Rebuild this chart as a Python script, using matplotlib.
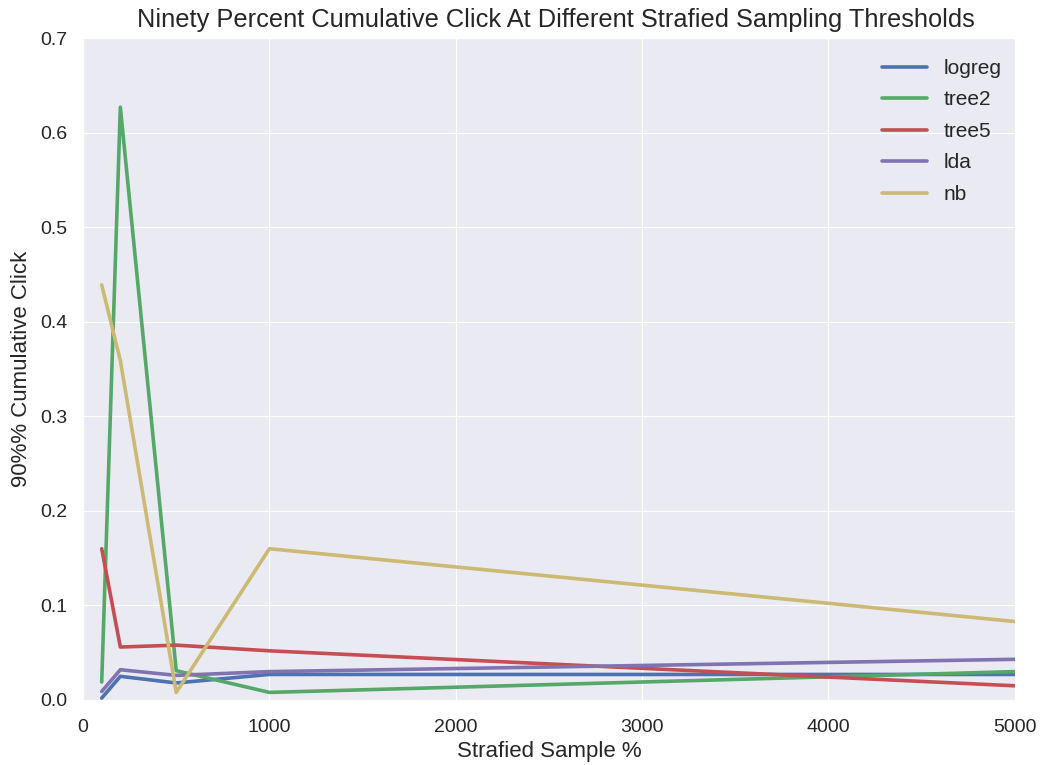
import matplotlib
matplotlib.use("Agg")
import matplotlib.pyplot as plt
import seaborn as sns

sample_pct = [100, 200, 500, 1000, 5000]
logreg = [0.002, 0.025, 0.018, 0.027, 0.027]
tree2 = [0.019, 0.627, 0.031, 0.008, 0.030]
tree5 = [0.160, 0.056, 0.058, 0.052, 0.015]
lda = [0.009, 0.032, 0.026, 0.030, 0.043]
nb = [0.439, 0.359, 0.008, 0.160, 0.083]
series_names = ["logreg", "tree2", "tree5", "lda", "nb"]
colors = ["#4C72B0", "#55A868", "#C44E52", "#8172B2", "#CCB974"]

sns.set_style("darkgrid")
plt.rcParams['font.family'] = ['Liberation Sans', 'DejaVu Sans']

fig, ax = plt.subplots(figsize=(10.45, 7.65), dpi=100)
fig.subplots_adjust(left=0.0795, right=0.971, top=0.950, bottom=0.085)

for name, vals, c in zip(series_names, [logreg, tree2, tree5, lda, nb], colors):
    ax.plot(sample_pct, vals, color=c, lw=2.6, label=name)

ax.set_xlim(0, 5000)
ax.set_ylim(0, 0.7)
ax.set_xticks([0, 1000, 2000, 3000, 4000, 5000])
ax.set_yticks([0, 0.1, 0.2, 0.3, 0.4, 0.5, 0.6, 0.7])
ax.set_yticklabels(["0.0", "0.1", "0.2", "0.3", "0.4", "0.5", "0.6", "0.7"])
ax.tick_params(axis="y", labelsize=14, colors="#262626", length=0, pad=11)
ax.tick_params(axis="x", labelsize=14, colors="#262626", length=0, pad=14)
ax.set_xlabel("Strafied Sample %", fontsize=16, color="#262626", labelpad=3)
ax.set_ylabel("90%% Cumulative Click", fontsize=16, color="#262626", labelpad=6)
ax.set_title("Ninety Percent Cumulative Click At Different Strafied Sampling Thresholds",
             fontsize=18.3, color="#262626", pad=8, x=0.507)
leg = ax.legend(loc="upper right", fontsize=15, frameon=False,
                bbox_to_anchor=(1.006, 0.997), labelspacing=0.6, handlelength=2.15)

fig.savefig("out.png", dpi=100)
